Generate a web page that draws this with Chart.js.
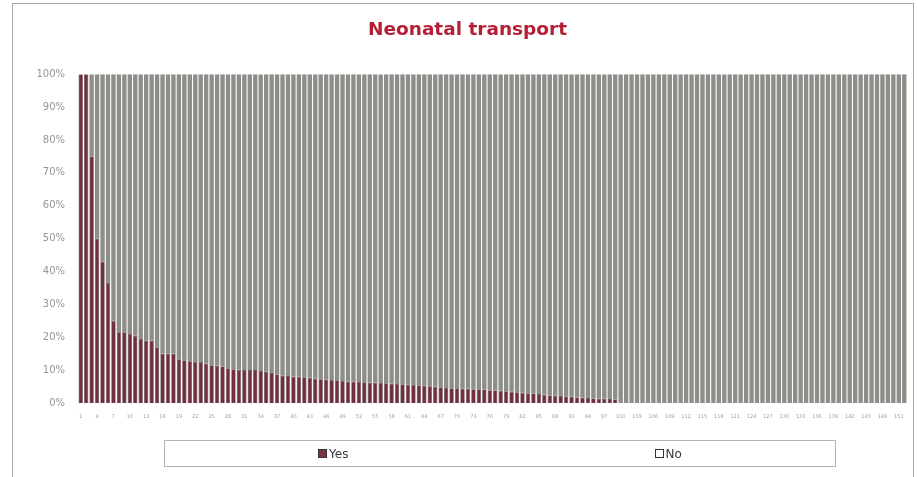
<!DOCTYPE html>
<html>
<head>
<meta charset="utf-8">
<script src="https://cdn.jsdelivr.net/npm/chart.js@4"></script>
<style>
  html, body { margin: 0; padding: 0; background: #ffffff; }
  #wrap { position: relative; width: 917px; height: 477px; overflow: hidden; }
  #frame { position: absolute; left: 12px; top: 3px; width: 902px; height: 490px; border: 1px solid #a8a8a8; box-sizing: border-box; }
  canvas { position: absolute; left: 0; top: 0; }
  #legend { position: absolute; left: 164px; top: 440px; width: 672px; height: 27px; border: 1px solid #b4b4b4; box-sizing: border-box; display: flex; justify-content: space-around; align-items: center; font-family: "DejaVu Sans", Verdana, sans-serif; font-size: 12px; color: #3a3a3a; }
  .item { display: flex; align-items: center; }
  .box { width: 9px; height: 9px; border: 1px solid #333; box-sizing: border-box; margin-right: 2px; }
</style>
</head>
<body>
<div id="wrap">
  <div id="frame"></div>
  <canvas id="c" width="917" height="477"></canvas>
  <div id="legend"></div>
</div>
<script>
const chartTitle = 'Neonatal transport';
const seriesNames = ['Yes', 'No'];
const seriesColors = ['#70303e', '#8d8e89'];
const legendBoxColors = ['#7a3343', '#ffffff'];

const categories = [
 '1','2','3','4','5','6','7','8','9','10','11','12','13','14','15','16','17','18','19','20',
 '21','22','23','24','25','26','27','28','29','30','31','32','33','34','35','36','37','38','39','40',
 '41','42','43','44','45','46','47','48','49','50','51','52','53','54','55','56','57','58','59','60',
 '61','62','63','64','65','66','67','68','69','70','71','72','73','74','75','76','77','78','79','80',
 '81','82','83','84','85','86','87','88','89','90','91','92','93','94','95','96','97','98','99','100',
 '101','102','103','104','105','106','107','108','109','110','111','112','113','114','115','116','117','118','119','120',
 '121','122','123','124','125','126','127','128','129','130','131','132','133','134','135','136','137','138','139','140',
 '141','142','143','144','145','146','147','148','149','150','151','152'
];

const xTickLabels = ['1','4','7','10','13','16','19','22','25','28','31','34','37','40','43','46','49','52','55','58',
 '61','64','67','70','73','76','79','82','85','88','91','94','97','100','103','106','109','112','115','118',
 '121','124','127','130','133','136','139','142','145','148','151'];

const yTickLabels = ['0%','10%','20%','30%','40%','50%','60%','70%','80%','90%','100%'];

const yesValues = [
 100,100,75,50,43,36.5,25,21.5,21.5,21,
 20.5,19.5,19,19,16.7,15,15,15,13.3,13,
 12.7,12.5,12.5,12,11.5,11.3,11.1,10.6,10.3,10.1,
 10,10,10,9.7,9.5,9.1,8.7,8.3,8.2,8,
 8,7.8,7.7,7.4,7.2,7.1,7,6.9,6.7,6.5,
 6.5,6.4,6.3,6.2,6.2,6.1,6,5.9,5.8,5.7,
 5.6,5.5,5.4,5.3,5.1,5,4.8,4.6,4.5,4.5,
 4.4,4.3,4.2,4.2,4.1,3.9,3.8,3.7,3.6,3.4,
 3.3,3.1,3,2.9,2.7,2.5,2.3,2.2,2.1,2,
 1.9,1.7,1.6,1.5,1.4,1.3,1.3,1.2,1.1,
 0,0,0,0,0,0,0,0,0,0,
 0,0,0,0,0,0,0,0,0,0,
 0,0,0,0,0,0,0,0,0,0,
 0,0,0,0,0,0,0,0,0,0,
 0,0,0,0,0,0,0,0,0,0,
 0,0,0
];

const noValues = [
 0,0,25,50,57,63.5,75,78.5,78.5,79,
 79.5,80.5,81,81,83.3,85,85,85,86.7,87,
 87.3,87.5,87.5,88,88.5,88.7,88.9,89.4,89.7,89.9,
 90,90,90,90.3,90.5,90.9,91.3,91.7,91.8,92,
 92,92.2,92.3,92.6,92.8,92.9,93,93.1,93.3,93.5,
 93.5,93.6,93.7,93.8,93.8,93.9,94,94.1,94.2,94.3,
 94.4,94.5,94.6,94.7,94.9,95,95.2,95.4,95.5,95.5,
 95.6,95.7,95.8,95.8,95.9,96.1,96.2,96.3,96.4,96.6,
 96.7,96.9,97,97.1,97.3,97.5,97.7,97.8,97.9,98,
 98.1,98.3,98.4,98.5,98.6,98.7,98.7,98.8,98.9,
 100,100,100,100,100,100,100,100,100,100,
 100,100,100,100,100,100,100,100,100,100,
 100,100,100,100,100,100,100,100,100,100,
 100,100,100,100,100,100,100,100,100,100,
 100,100,100,100,100,100,100,100,100,100,
 100,100,100
];

// HTML legend built from the series
const legendEl = document.getElementById('legend');
seriesNames.forEach((name, i) => {
  const it = document.createElement('div');
  it.className = 'item';
  const b = document.createElement('span');
  b.className = 'box';
  b.style.background = legendBoxColors[i];
  const t = document.createElement('span');
  t.textContent = name;
  it.appendChild(b); it.appendChild(t);
  legendEl.appendChild(it);
});

new Chart(document.getElementById('c'), {
  type: 'bar',
  data: {
    labels: categories,
    datasets: [
      { label: seriesNames[0], data: yesValues, backgroundColor: seriesColors[0], borderColor: '#4e3c40', borderWidth: 0.6, barPercentage: 0.8, categoryPercentage: 1 },
      { label: seriesNames[1], data: noValues, backgroundColor: seriesColors[1], borderColor: '#7d7e79', borderWidth: 0, barPercentage: 0.8, categoryPercentage: 1 }
    ]
  },
  options: {
    responsive: false,
    animation: false,
    layout: { padding: { left: 28, right: 10, top: 0, bottom: 0 } },
    plugins: {
      legend: { display: false },
      tooltip: { enabled: false },
      title: {
        display: true,
        text: chartTitle,
        color: '#b51f35',
        font: { family: '"DejaVu Sans", Verdana, sans-serif', size: 18.5, weight: 'bold' },
        padding: { top: 19, bottom: 33 }
      }
    },
    scales: {
      x: {
        stacked: true,
        grid: { display: false },
        border: { display: false },
        afterFit: (s) => { s.height = 74; },
        ticks: {
          autoSkip: false,
          maxRotation: 0,
          minRotation: 0,
          padding: 3,
          color: '#a0a0a0',
          font: { family: '"DejaVu Sans", sans-serif', size: 5 },
          callback: function (v, i) { const l = categories[i]; return xTickLabels.includes(l) ? l : ''; }
        }
      },
      y: {
        stacked: true,
        min: 0,
        max: 100,
        grid: { display: false },
        border: { display: false },
        afterFit: (s) => { s.width = 50; },
        ticks: {
          stepSize: 10,
          padding: 5,
          color: '#969696',
          font: { family: '"DejaVu Sans", Verdana, sans-serif', size: 10 },
          callback: function (v, i) { return yTickLabels[i]; }
        }
      }
    }
  }
});
</script>
</body>
</html>
